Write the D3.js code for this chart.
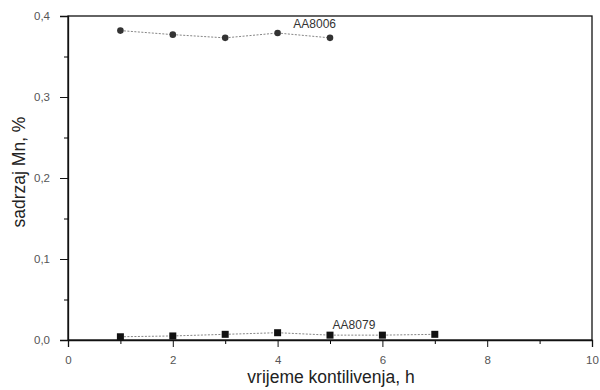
<!DOCTYPE html>
<html>
<head>
<meta charset="utf-8">
<script src="https://cdn.jsdelivr.net/npm/d3@7"></script>
<style>
  body { margin: 0; background: #fff; }
  svg { font-family: "Liberation Sans", Arial, sans-serif; }
</style>
</head>
<body>
<svg id="chart"></svg>
<script>
// time (h) for each series
const hours8006 = [1, 2, 3, 4, 5];
const mn8006 = [0.382, 0.377, 0.373, 0.379, 0.373];
const hours8079 = [1, 2, 3, 4, 5, 6, 7];
const mn8079 = [0.004, 0.005, 0.007, 0.009, 0.006, 0.006, 0.007];
const xTicks = [0, 2, 4, 6, 8, 10];
const yTicks = [0, 0.1, 0.2, 0.3, 0.4];

const svgWidth = 600, svgHeight = 390;
const margin = { top: 16, right: 8, bottom: 50, left: 68 };
const width = svgWidth - margin.left - margin.right;
const height = svgHeight - margin.top - margin.bottom;

const svg = d3.select('#chart')
    .attr('width', svgWidth)
    .attr('height', svgHeight);
const g = svg.append('g')
    .attr('transform', 'translate(' + margin.left + ',' + margin.top + ')');

const x = d3.scaleLinear().domain([0, 10]).range([0, width]);
const y = d3.scaleLinear().domain([0, 0.4]).range([height, 0]);
const fmt = d => d3.format('.1f')(d).replace('.', ',');

// frame
g.append('rect')
    .attr('width', width).attr('height', height)
    .attr('fill', 'none').attr('stroke', '#111').attr('stroke-width', 1.3);

// minor ticks
g.append('g')
    .attr('transform', 'translate(0,' + height + ')')
    .call(d3.axisBottom(x).tickValues([1, 3, 5, 7, 9]).tickSize(4).tickFormat(''))
    .call(a => a.select('.domain').remove());
g.append('g')
    .call(d3.axisLeft(y).tickValues([0.05, 0.15, 0.25, 0.35]).tickSize(4).tickFormat(''))
    .call(a => a.select('.domain').remove());

// major axes
const gX = g.append('g')
    .attr('transform', 'translate(0,' + height + ')')
    .call(d3.axisBottom(x).tickValues(xTicks).tickSize(7).tickPadding(9).tickFormat(d3.format('d')));
const gY = g.append('g')
    .call(d3.axisLeft(y).tickValues(yTicks).tickSize(8).tickPadding(10).tickFormat(fmt));
[gX, gY].forEach(a => {
    a.select('.domain').attr('stroke', '#111').attr('stroke-width', 1.3);
    a.selectAll('text').attr('font-size', 11.5).attr('fill', '#555');
    a.selectAll('line').attr('stroke', '#111');
});

// series AA8006
const data8006 = hours8006.map((h, i) => [h, mn8006[i]]);
const data8079 = hours8079.map((h, i) => [h, mn8079[i]]);
const line = d3.line().x(d => x(d[0])).y(d => y(d[1]));

g.append('path').datum(data8006)
    .attr('d', line).attr('fill', 'none')
    .attr('stroke', '#666').attr('stroke-width', 0.8).attr('stroke-dasharray', '2,1.5');
g.selectAll('.c8006').data(data8006).enter().append('circle')
    .attr('class', 'c8006')
    .attr('cx', d => x(d[0])).attr('cy', d => y(d[1]))
    .attr('r', 3.3).attr('fill', '#333');

g.append('path').datum(data8079)
    .attr('d', line).attr('fill', 'none')
    .attr('stroke', '#666').attr('stroke-width', 0.8).attr('stroke-dasharray', '2,1.5');
g.selectAll('.s8079').data(data8079).enter().append('rect')
    .attr('class', 's8079')
    .attr('x', d => x(d[0]) - 3.5).attr('y', d => y(d[1]) - 3.5)
    .attr('width', 7).attr('height', 7).attr('fill', '#111');

// series labels
g.append('text')
    .attr('x', x(4.3)).attr('y', y(mn8006[3]) - 5)
    .attr('font-size', 12).attr('fill', '#333')
    .text('AA8006');
g.append('text')
    .attr('x', x(5.05)).attr('y', y(0.0135))
    .attr('font-size', 12).attr('fill', '#333')
    .text('AA8079');

// axis titles
svg.append('text')
    .attr('x', 331).attr('y', 383)
    .attr('text-anchor', 'middle').attr('font-size', 17.5).attr('fill', '#222')
    .text('vrijeme kontilivenja, h');
svg.append('text')
    .attr('transform', 'translate(25,172) rotate(-90)')
    .attr('text-anchor', 'middle').attr('font-size', 17.5).attr('fill', '#222')
    .text('sadrzaj Mn, %');
</script>
</body>
</html>
